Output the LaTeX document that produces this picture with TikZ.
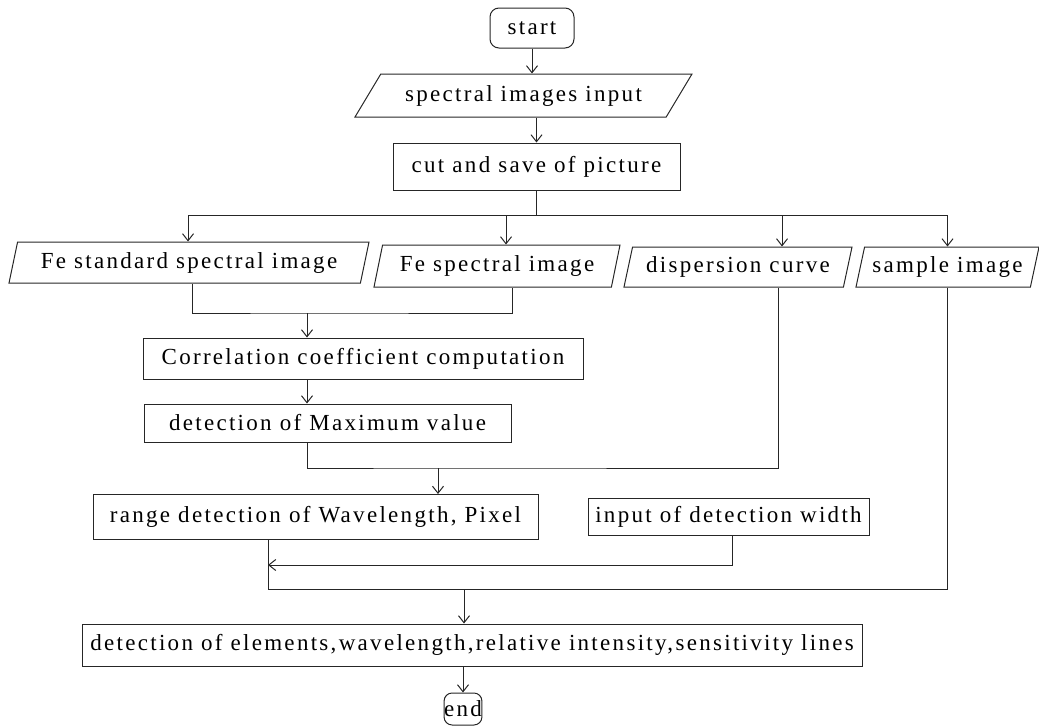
\documentclass[tikz,border=0pt]{standalone}
\usepackage{fontspec}
\setmainfont{Liberation Serif}[LetterSpace=10]
\usetikzlibrary{arrows.meta,shapes.geometric,calc}
\colorlet{flowLine}{black!85}
\tikzset{
  >={Straight Barb[length=7pt,width=11pt]},
  flowtext/.style={font=\fontsize{23}{26}\selectfont, text=black},
  procbox/.style={
    rectangle,
    draw=flowLine,
    line width=1pt,
    inner sep=2pt,
    flowtext
  },
  terminal/.style={
    procbox,
    rounded corners=9pt
  },
  iobox/.style={
    trapezium,
    trapezium left angle=71,
    trapezium right angle=109,
    trapezium stretches body,
    draw=flowLine,
    line width=1pt,
    inner sep=2pt,
    flowtext
  },
  arrow/.style={->, draw=flowLine, line width=1pt},
  link/.style={draw=flowLine, line width=1pt}
}

\begin{document}
\begin{tikzpicture}[x=1pt,y=-1pt]
\useasboundingbox (0,0) rectangle (1039,726);

% main column
\node[terminal, minimum width=84pt, minimum height=40pt] (start) at (532,28) {start};
\node[iobox, trapezium left angle=44, trapezium right angle=136, minimum width=337pt, minimum height=43pt] (input) at (523.5,95.5) {spectral images input};
\node[procbox, minimum width=287pt, minimum height=47pt] (cut) at (536.5,166.5) {cut and save of picture};

% four image inputs
\node[iobox, minimum width=360pt, minimum height=41pt] (festd) at (189,262.5) {Fe standard spectral image};
\node[iobox, minimum width=246pt, minimum height=42pt] (fespec) at (497,266) {Fe spectral image};
\node[iobox, minimum width=228pt, minimum height=40pt] (disp) at (738,267) {dispersion curve};
\node[iobox, minimum width=183pt, minimum height=40pt] (sample) at (947.5,267) {sample image};

\node[procbox, minimum width=440pt, minimum height=41pt] (corr) at (363,358.5) {Correlation coefficient computation};
\node[procbox, minimum width=367pt, minimum height=38pt] (maxval) at (327.5,423) {detection of Maximum value};
\node[procbox, minimum width=445pt, minimum height=45pt] (range) at (315.5,517) {range detection of Wavelength, Pixel};
\node[procbox, minimum width=281pt, minimum height=37pt] (width) at (728.5,516.5) {input of detection width};
\node[procbox, minimum width=780pt, minimum height=42pt] (result) at (472,645) {detection of elements,wavelength,relative intensity,sensitivity lines};
\node[terminal, inner xsep=0pt, minimum height=32pt, rounded corners=8pt] (end) at (463,709) {end};

\coordinate (split) at ($(cut.south)+(0,25)$);
\coordinate (join1) at (307,313);
\coordinate (join2) at (438,468);
\coordinate (wside) at (268,565);
\coordinate (merge) at (268,589);

\draw[arrow] (start.south) -- (start.south |- input.north);
\draw[arrow] (cut.north |- input.south) -- (cut.north);
\draw[link] (cut.south) -- (split);
\draw[arrow] (split) -| ([xshift=-1pt]festd.north);
\draw[arrow] (split) -| ([xshift=9pt]fespec.north);
\draw[arrow] (split) -| ([xshift=44pt]disp.north);
\draw[arrow] (split) -| (sample.north);

\draw[link] ([xshift=3pt]festd.south) |- (join1) -| ([xshift=15pt]fespec.south);
\draw[arrow] (join1) -- (join1 |- corr.north);
\draw[arrow] (corr.south -| join1) -- (maxval.north -| join1);
\draw[link] (maxval.south -| join1) |- (join2) -| ([xshift=40pt]disp.south);
\draw[arrow] (join2) -- (join2 |- range.north);

\draw[arrow] ([xshift=4pt]width.south) |- (wside);
\draw[link] (range.south -| merge) -- (merge) -| (sample.south);
\draw[arrow] ([xshift=-8pt]result.north |- merge) -- ([xshift=-8pt]result.north);
\draw[arrow] (end.north |- result.south) -- (end);

\end{tikzpicture}
\end{document}
